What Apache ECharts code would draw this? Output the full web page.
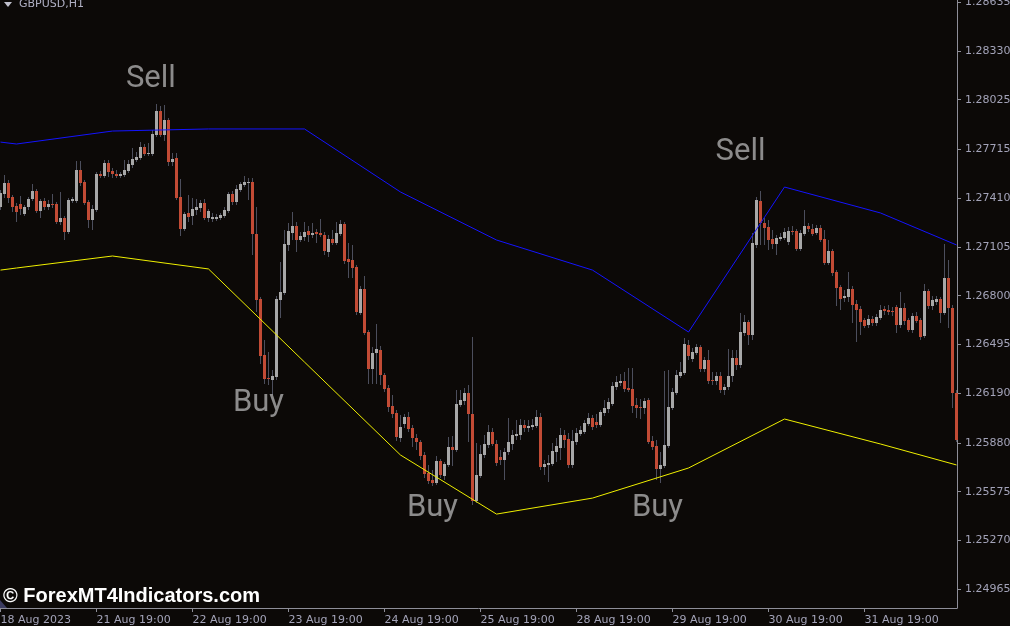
<!DOCTYPE html>
<html>
<head>
<meta charset="utf-8">
<style>
html,body{margin:0;padding:0;background:#0c0907;}
#chart{width:1010px;height:626px;}
</style>
<script src="https://cdn.jsdelivr.net/npm/echarts@6/dist/echarts.min.js"></script>
</head>
<body>
<div id="chart"></div>
<script>
// ---------- DATA ----------
const symbolTitle = 'GBPUSD,H1';
const watermark = '\u00A9 ForexMT4Indicators.com';

// x tick labels (every 24 hourly bars)
const xTickBars = [0, 24, 48, 72, 96, 120, 144, 168, 192, 216];
const xTickLabels = ['18 Aug 2023', '21 Aug 19:00', '22 Aug 19:00', '23 Aug 19:00', '24 Aug 19:00',
  '25 Aug 19:00', '28 Aug 19:00', '29 Aug 19:00', '30 Aug 19:00', '31 Aug 19:00'];

// y tick labels
const yTicks = [1.28635, 1.28330, 1.28025, 1.27715, 1.27410, 1.27105, 1.26800,
  1.26495, 1.26190, 1.25880, 1.25575, 1.25270, 1.24965];

// hourly candles (bar index = position in arrays)
const opens = [
1.27354,1.27436,1.27504,1.27417,1.27360,1.27373,1.27310,1.27354,1.27404,1.27454,
1.27329,1.27392,1.27354,1.27373,1.27373,1.27260,1.27285,1.27198,1.27392,1.27392,
1.27585,1.27510,1.27385,1.27273,1.27335,1.27560,1.27548,1.27629,1.27579,1.27560,
1.27548,1.27554,1.27579,1.27617,1.27648,1.27660,1.27729,1.27685,1.27685,1.27804,
1.27954,1.27804,1.27898,1.27635,1.27660,1.27417,1.27217,1.27317,1.27298,1.27335,
1.27348,1.27379,1.27285,1.27279,1.27279,1.27285,1.27298,1.27329,1.27436,1.27385,
1.27460,1.27492,1.27504,1.27510,1.27185,1.26779,1.26429,1.26285,1.26273,1.26292,
1.26773,1.26817,1.27117,1.27192,1.27235,1.27148,1.27167,1.27204,1.27179,1.27198,
1.27192,1.27179,1.27073,1.27154,1.27129,1.27185,1.27248,1.27029,1.27023,1.26979,
1.26692,1.26842,1.26573,1.26342,1.26442,1.26460,1.26304,1.26223,1.26110,1.26067,
1.25910,1.25998,1.26042,1.25973,1.25910,1.25885,1.25804,1.25692,1.25648,1.25629,
1.25767,1.25673,1.25742,1.25854,1.25835,1.26117,1.26142,1.26192,1.26060,1.25517,
1.25673,1.25804,1.25867,1.25948,1.25873,1.25792,1.25773,1.25823,1.25873,1.25923,
1.25929,1.25992,1.25973,1.25979,1.25985,1.26042,1.25729,1.25742,1.25748,1.25823,
1.25848,1.25929,1.25904,1.25742,1.25885,1.25935,1.25948,1.25998,1.26035,1.26010,
1.25992,1.26067,1.26092,1.26123,1.26229,1.26254,1.26267,1.26223,1.26217,1.26117,
1.26104,1.26098,1.26148,1.25892,1.25860,1.25717,1.25735,1.25860,1.26098,1.26192,
1.26298,1.26317,1.26492,1.26404,1.26442,1.26479,1.26342,1.26398,1.26273,1.26267,
1.26298,1.26210,1.26229,1.26298,1.26410,1.26367,1.26567,1.26635,1.26554,1.27117,
1.27392,1.27254,1.27229,1.27154,1.27123,1.27154,1.27160,1.27135,1.27204,1.27204,
1.27092,1.27185,1.27235,1.27217,1.27192,1.27223,1.27154,1.27004,1.27079,1.26948,
1.26854,1.26785,1.26792,1.26842,1.26748,1.26717,1.26648,1.26617,1.26654,1.26629,
1.26660,1.26717,1.26710,1.26704,1.26729,1.26617,1.26723,1.26648,1.26585,1.26673,
1.26648,1.26548,1.26829,1.26735,1.26760,1.26779,1.26692,1.26910,1.26723,1.26192];

const highs = [
1.27460,1.27554,1.27523,1.27429,1.27379,1.27423,1.27367,1.27417,1.27498,1.27467,
1.27404,1.27410,1.27398,1.27436,1.27385,1.27448,1.27298,1.27410,1.27417,1.27642,
1.27642,1.27523,1.27398,1.27367,1.27573,1.27579,1.27648,1.27648,1.27598,1.27585,
1.27573,1.27648,1.27648,1.27723,1.27698,1.27760,1.27748,1.27754,1.27835,1.27998,
1.27985,1.27992,1.27910,1.27692,1.27692,1.27529,1.27323,1.27429,1.27410,1.27404,
1.27398,1.27404,1.27342,1.27317,1.27310,1.27317,1.27354,1.27448,1.27454,1.27492,
1.27510,1.27548,1.27535,1.27535,1.27354,1.26792,1.26523,1.26448,1.26335,1.26798,
1.27010,1.27210,1.27254,1.27323,1.27260,1.27198,1.27260,1.27235,1.27254,1.27217,
1.27279,1.27198,1.27179,1.27210,1.27260,1.27273,1.27260,1.27129,1.27117,1.26992,
1.26860,1.26923,1.26585,1.26479,1.26623,1.26485,1.26317,1.26242,1.26179,1.26085,
1.26054,1.26060,1.26073,1.25992,1.25935,1.25898,1.25823,1.25742,1.25710,1.25798,
1.25779,1.25760,1.25917,1.25923,1.26210,1.26210,1.26223,1.26242,1.26542,1.25879,
1.25867,1.25929,1.25992,1.25973,1.25898,1.25835,1.25848,1.26035,1.25960,1.26023,
1.26029,1.26023,1.26023,1.26029,1.26085,1.26067,1.25773,1.25804,1.25879,1.25910,
1.25973,1.25960,1.25942,1.25960,1.25973,1.25985,1.26023,1.26067,1.26054,1.26060,
1.26085,1.26148,1.26160,1.26260,1.26298,1.26310,1.26323,1.26348,1.26348,1.26160,
1.26154,1.26160,1.26160,1.25923,1.25898,1.25823,1.26329,1.26335,1.26223,1.26335,
1.26385,1.26535,1.26523,1.26473,1.26498,1.26492,1.26417,1.26460,1.26323,1.26323,
1.26323,1.26248,1.26467,1.26460,1.26460,1.26692,1.26679,1.26648,1.27192,1.27417,
1.27454,1.27285,1.27273,1.27210,1.27179,1.27192,1.27223,1.27229,1.27235,1.27217,
1.27210,1.27335,1.27254,1.27248,1.27242,1.27242,1.27210,1.27148,1.27092,1.26960,
1.26867,1.26835,1.26948,1.26860,1.26773,1.26735,1.26660,1.26679,1.26673,1.26685,
1.26742,1.26735,1.26742,1.26729,1.26742,1.26823,1.26754,1.26660,1.26692,1.26698,
1.26660,1.26873,1.26842,1.26798,1.26798,1.26792,1.27123,1.27023,1.26742,1.26210];

const lows = [
1.27335,1.27410,1.27379,1.27323,1.27260,1.27304,1.27298,1.27335,1.27392,1.27317,
1.27285,1.27335,1.27335,1.27348,1.27248,1.27242,1.27148,1.27185,1.27379,1.27379,
1.27485,1.27367,1.27223,1.27210,1.27323,1.27535,1.27535,1.27542,1.27535,1.27535,
1.27535,1.27542,1.27567,1.27598,1.27635,1.27648,1.27673,1.27673,1.27673,1.27792,
1.27792,1.27767,1.27610,1.27610,1.27398,1.27173,1.27204,1.27260,1.27242,1.27304,
1.27323,1.27273,1.27260,1.27260,1.27267,1.27273,1.27285,1.27317,1.27367,1.27367,
1.27448,1.27479,1.27398,1.27054,1.26698,1.26373,1.26248,1.26242,1.26179,1.26273,
1.26660,1.26804,1.27079,1.27148,1.27073,1.27135,1.27142,1.27135,1.27160,1.27129,
1.27167,1.27054,1.27042,1.27117,1.27117,1.27173,1.26998,1.26910,1.26910,1.26679,
1.26679,1.26554,1.26248,1.26248,1.26248,1.26242,1.26198,1.26073,1.26035,1.25892,
1.25885,1.25973,1.25948,1.25854,1.25835,1.25773,1.25660,1.25623,1.25610,1.25617,
1.25660,1.25648,1.25729,1.25735,1.25823,1.26104,1.26117,1.25885,1.25492,1.25504,
1.25660,1.25785,1.25848,1.25860,1.25735,1.25742,1.25648,1.25804,1.25835,1.25898,
1.25898,1.25948,1.25948,1.25960,1.25973,1.25710,1.25679,1.25635,1.25735,1.25760,
1.25773,1.25848,1.25723,1.25723,1.25867,1.25923,1.25935,1.25985,1.25960,1.25973,
1.25979,1.26048,1.26067,1.26110,1.26210,1.26235,1.26198,1.26198,1.26067,1.26035,
1.26029,1.26060,1.25873,1.25835,1.25648,1.25629,1.25723,1.25848,1.26085,1.26179,
1.26285,1.26304,1.26398,1.26385,1.26429,1.26323,1.26323,1.26248,1.26242,1.26242,
1.26192,1.26179,1.26210,1.26260,1.26335,1.26348,1.26548,1.26492,1.26523,1.27098,
1.27117,1.27117,1.27085,1.27092,1.27054,1.27142,1.27148,1.27117,1.27179,1.27079,
1.27079,1.27173,1.27198,1.27173,1.27179,1.27135,1.26992,1.26992,1.26923,1.26735,
1.26710,1.26760,1.26760,1.26629,1.26510,1.26554,1.26598,1.26598,1.26610,1.26610,
1.26648,1.26679,1.26679,1.26673,1.26567,1.26598,1.26617,1.26573,1.26567,1.26629,
1.26523,1.26535,1.26717,1.26710,1.26742,1.26629,1.26679,1.26598,1.26098,1.25885];

const closes = [
1.27442,1.27504,1.27410,1.27354,1.27323,1.27342,1.27354,1.27404,1.27454,1.27329,
1.27392,1.27354,1.27373,1.27367,1.27260,1.27285,1.27198,1.27398,1.27404,1.27585,
1.27504,1.27379,1.27273,1.27342,1.27560,1.27548,1.27629,1.27573,1.27560,1.27548,
1.27560,1.27585,1.27623,1.27654,1.27667,1.27729,1.27685,1.27692,1.27810,1.27954,
1.27804,1.27898,1.27635,1.27654,1.27410,1.27217,1.27310,1.27292,1.27342,1.27354,
1.27379,1.27285,1.27329,1.27292,1.27292,1.27304,1.27335,1.27436,1.27385,1.27467,
1.27498,1.27510,1.27510,1.27185,1.26773,1.26423,1.26279,1.26279,1.26298,1.26779,
1.26823,1.27123,1.27204,1.27235,1.27148,1.27173,1.27198,1.27179,1.27192,1.27185,
1.27179,1.27079,1.27154,1.27129,1.27192,1.27248,1.27017,1.27010,1.26973,1.26698,
1.26842,1.26567,1.26342,1.26442,1.26467,1.26304,1.26217,1.26104,1.26060,1.25917,
1.25979,1.26042,1.25967,1.25910,1.25885,1.25798,1.25685,1.25642,1.25629,1.25767,
1.25679,1.25748,1.25854,1.25835,1.26123,1.26148,1.26192,1.26060,1.25517,1.25679,
1.25810,1.25873,1.25948,1.25873,1.25754,1.25773,1.25823,1.25885,1.25929,1.25935,
1.25992,1.25973,1.25985,1.25992,1.26042,1.25729,1.25748,1.25754,1.25829,1.25860,
1.25929,1.25898,1.25742,1.25892,1.25942,1.25960,1.26004,1.26035,1.25979,1.25992,
1.26073,1.26098,1.26135,1.26235,1.26260,1.26267,1.26217,1.26210,1.26110,1.26098,
1.26098,1.26142,1.25885,1.25854,1.25717,1.25742,1.25867,1.26104,1.26198,1.26304,
1.26323,1.26498,1.26423,1.26448,1.26479,1.26342,1.26398,1.26267,1.26267,1.26298,
1.26210,1.26229,1.26298,1.26410,1.26367,1.26573,1.26635,1.26554,1.27129,1.27398,
1.27254,1.27223,1.27148,1.27123,1.27160,1.27167,1.27198,1.27204,1.27198,1.27092,
1.27192,1.27235,1.27217,1.27185,1.27223,1.27148,1.27004,1.27079,1.26942,1.26848,
1.26779,1.26798,1.26842,1.26742,1.26710,1.26635,1.26610,1.26654,1.26629,1.26667,
1.26710,1.26704,1.26698,1.26698,1.26617,1.26723,1.26642,1.26585,1.26673,1.26642,
1.26542,1.26829,1.26735,1.26773,1.26779,1.26692,1.26910,1.26723,1.26192,1.25898];

// envelope lines (vertices at bar indices)
const bandBars  = [0, 4, 28, 52, 76, 100, 124, 148, 172, 196, 220, 239];
const upperBand = [1.27760, 1.27748, 1.27829, 1.27842, 1.27842, 1.27448, 1.27148, 1.26960, 1.26573, 1.27479, 1.27317, 1.27117];
const lowerBand = [1.26960, 1.26973, 1.27048, 1.26967, 1.26385, 1.25804, 1.25435, 1.25535, 1.25723, 1.26029, 1.25873, 1.25742];

// signal labels
const signalBars   = [37.6, 185, 64.5, 108, 164.25];
const signalPrices = [1.28151, 1.27694, 1.26126, 1.25469, 1.25469];
const signalTexts  = ['Sell', 'Sell', 'Buy', 'Buy', 'Buy'];

// ---------- BUILD ----------
const candleData = opens.map((o, i) => [i, o, highs[i], lows[i], closes[i]]);
const upperData = bandBars.map((b, i) => [b, upperBand[i]]);
const lowerData = bandBars.map((b, i) => [b, lowerBand[i]]);
const signalData = signalBars.map((b, i) => ({ value: [b, signalPrices[i]], name: signalTexts[i] }));

const AXIS_COLOR = '#8e8e98';
const LABEL_COLOR = '#a3a3b8';
const BULL = '#a8a8a8';
const BEAR = '#c24b35';
const WICK = '#4c4e5c';

const chart = echarts.init(document.getElementById('chart'), null, { renderer: 'canvas' });

chart.setOption({
  animation: false,
  backgroundColor: '#0c0907',
  grid: { left: 0, top: 0, right: 53, bottom: 18, containLabel: false, outerBoundsMode: 'none' },
  xAxis: {
    type: 'value',
    min: -0.125,
    max: 239.125,
    axisLine: { show: true, onZero: false, lineStyle: { color: AXIS_COLOR, width: 1 } },
    axisTick: { show: true, length: 4, customValues: xTickBars, lineStyle: { color: AXIS_COLOR } },
    axisLabel: {
      show: true,
      customValues: xTickBars,
      formatter: (v) => xTickLabels[xTickBars.indexOf(Math.round(v))] || '',
      align: 'left',
      margin: 7,
      color: LABEL_COLOR,
      fontSize: 11,
      fontFamily: 'DejaVu Sans'
    },
    splitLine: { show: false }
  },
  yAxis: {
    type: 'value',
    position: 'right',
    min: 1.24848,
    max: 1.28648,
    axisLine: { show: true, onZero: false, lineStyle: { color: AXIS_COLOR, width: 1 } },
    axisTick: { show: true, length: 4, customValues: yTicks, lineStyle: { color: AXIS_COLOR } },
    axisLabel: {
      show: true,
      customValues: yTicks,
      formatter: (v) => v.toFixed(5),
      margin: 8,
      color: LABEL_COLOR,
      fontSize: 11,
      fontFamily: 'DejaVu Sans'
    },
    splitLine: { show: false }
  },
  series: [
    {
      type: 'custom',
      name: 'candles',
      clip: false,
      data: candleData,
      encode: { x: 0, y: [1, 2, 3, 4] },
      renderItem: function (params, api) {
        const k = api.value(0);
        const o = api.value(1), h = api.value(2), l = api.value(3), c = api.value(4);
        const pO = api.coord([k, o]);
        const pC = api.coord([k, c]);
        const pH = api.coord([k, h]);
        const pL = api.coord([k, l]);
        const x = pO[0];
        const top = Math.round(Math.min(pO[1], pC[1]));
        const bot = Math.round(Math.max(pO[1], pC[1]));
        const fill = c >= o ? BULL : BEAR;
        return {
          type: 'group',
          children: [
            { type: 'line', shape: { x1: x, y1: Math.round(pH[1]), x2: x, y2: Math.round(pL[1]) },
              style: { stroke: WICK, lineWidth: 1 } },
            { type: 'rect', shape: { x: x - 1.5, y: top, width: 3, height: Math.max(1, bot - top) },
              style: { fill: fill } }
          ]
        };
      },
      z: 2
    },
    {
      type: 'line',
      name: 'upper',
      data: upperData,
      showSymbol: false,
      symbol: 'none',
      lineStyle: { color: '#1414ff', width: 1 },
      z: 3
    },
    {
      type: 'line',
      name: 'lower',
      data: lowerData,
      showSymbol: false,
      symbol: 'none',
      lineStyle: { color: '#f0f000', width: 1 },
      z: 3
    },
    {
      type: 'scatter',
      name: 'signals',
      data: signalData,
      symbolSize: 1,
      itemStyle: { color: 'rgba(0,0,0,0)' },
      label: {
        show: true,
        position: 'inside',
        formatter: '{b}',
        color: '#adadad',
        fontSize: 31,
        fontFamily: 'Roboto'
      },
      z: 4
    }
  ],
  graphic: [
    { type: 'polygon', shape: { points: [[4, 2], [12, 2], [8, 7]] }, style: { fill: '#c0c0cc' } },
    { type: 'text', left: 19, top: -1, style: { text: symbolTitle, fill: '#b0b0c4', font: '11px "DejaVu Sans"' } },
    { type: 'polygon', shape: { points: [[0, 600], [0, 608], [7, 608]] }, style: { fill: '#3c3c60' } },
    { type: 'text', left: 3, top: 586, style: { text: watermark, fill: '#ffffff', font: 'bold 20px "Liberation Sans"' } }
  ]
});
</script>
</body>
</html>
